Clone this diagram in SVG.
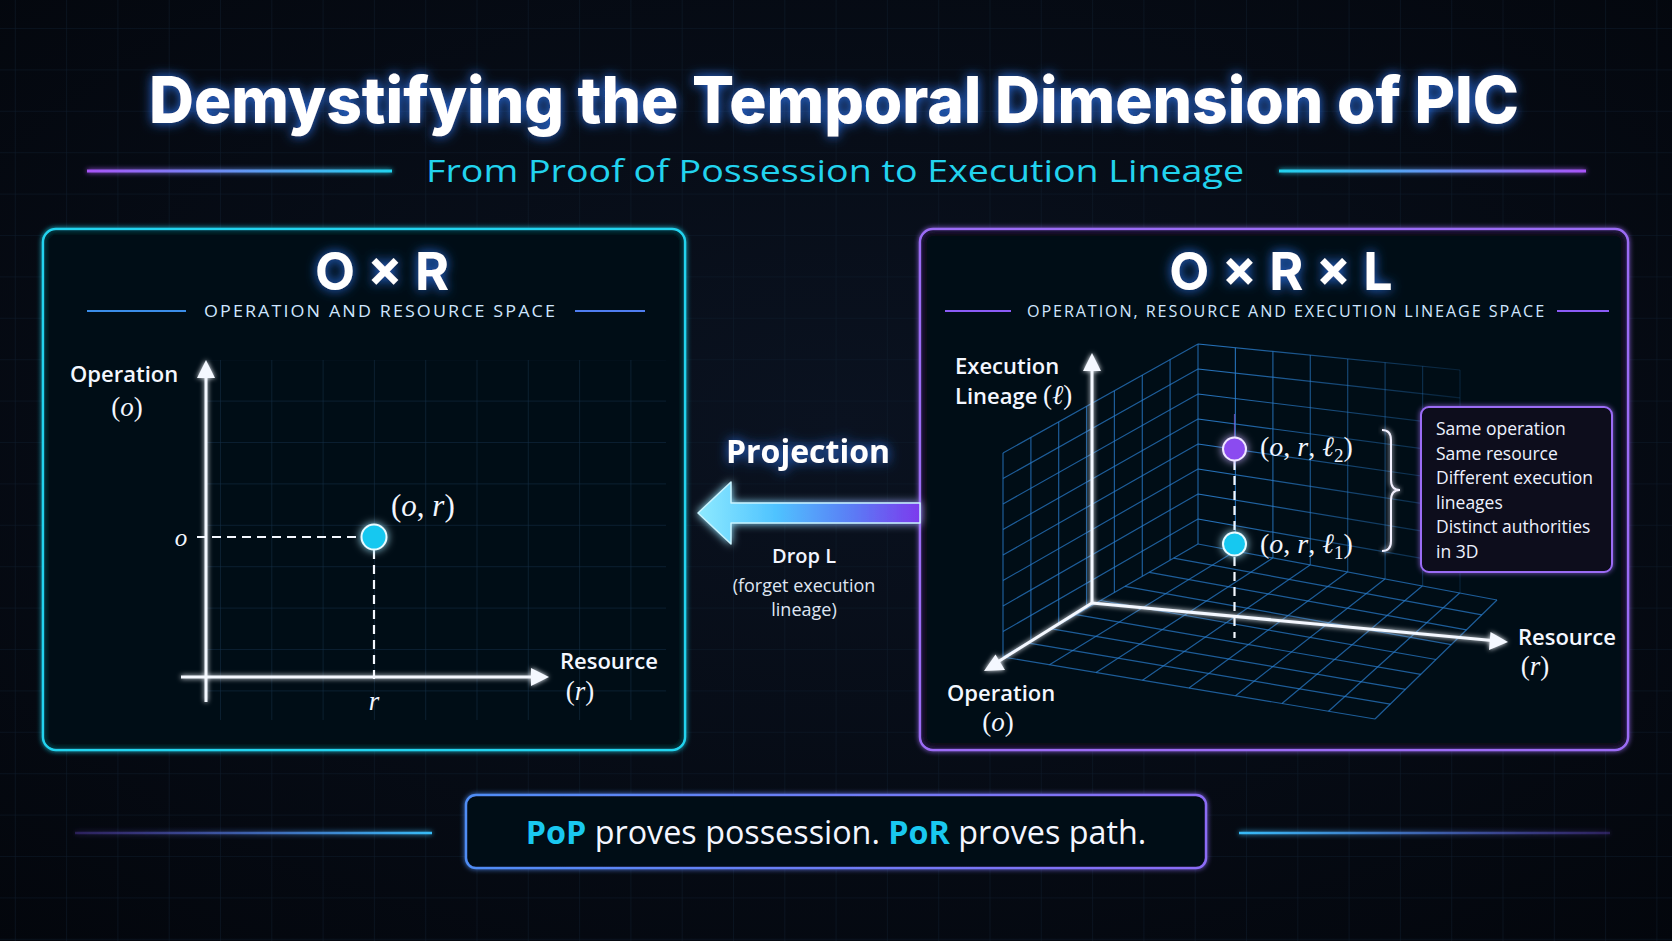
<svg xmlns="http://www.w3.org/2000/svg" width="1672" height="941" viewBox="0 0 1672 941">
<defs>
<style>
.sans{font-family:"Open Sans","Liberation Sans",sans-serif}
.inter{font-family:Inter,"Liberation Sans",sans-serif}
.math{font-family:"Liberation Serif","DejaVu Serif",serif;fill:#f2f6ff}
.it{font-style:italic}
.lbl{font-family:"Open Sans","Liberation Sans",sans-serif;font-weight:600;font-size:22px;fill:#f4f7ff}
.cap{font-family:"Open Sans","Liberation Sans",sans-serif;font-size:17px;fill:#cfe6ff;letter-spacing:2px}
.info{font-family:"Open Sans","Liberation Sans",sans-serif;font-size:17.5px;fill:#eef2ff}
.grid3d{stroke:#2a7fd0;stroke-width:1.2;fill:none;stroke-opacity:0.7}
.axis{stroke:#f4f8ff;stroke-width:3;fill:none}
.dash{stroke:#f4f8ff;stroke-width:2.2;stroke-dasharray:9 6;fill:none}
</style>
<pattern id="bggrid" x="14.8" y="28" width="51.3" height="41.4" patternUnits="userSpaceOnUse">
<path d="M0 0H51.3M0 0V41.4" stroke="#0e1c2c" stroke-width="1" fill="none"/>
</pattern>
<pattern id="plotgrid" x="14.8" y="28" width="51.3" height="41.4" patternUnits="userSpaceOnUse">
<path d="M0 0H51.3M0 0V41.4" stroke="#143049" stroke-width="1" fill="none"/>
</pattern>
<radialGradient id="bgrad" cx="0.5" cy="0.45" r="0.75">
<stop offset="0" stop-color="#0a1220"/>
<stop offset="1" stop-color="#03060c"/>
</radialGradient>
<linearGradient id="lineL" x1="87" x2="392" y1="0" y2="0" gradientUnits="userSpaceOnUse">
<stop offset="0" stop-color="#a855f7"/><stop offset="1" stop-color="#22d3ee"/>
</linearGradient>
<linearGradient id="lineR" x1="1279" x2="1586" y1="0" y2="0" gradientUnits="userSpaceOnUse">
<stop offset="0" stop-color="#22d3ee"/><stop offset="1" stop-color="#a855f7"/>
</linearGradient>
<linearGradient id="lineBL" x1="75" x2="432" y1="0" y2="0" gradientUnits="userSpaceOnUse">
<stop offset="0" stop-color="#6d4bd8" stop-opacity="0.3"/><stop offset="1" stop-color="#38bdf8"/>
</linearGradient>
<linearGradient id="lineBR" x1="1239" x2="1610" y1="0" y2="0" gradientUnits="userSpaceOnUse">
<stop offset="0" stop-color="#38bdf8"/><stop offset="1" stop-color="#6d4bd8" stop-opacity="0.3"/>
</linearGradient>
<linearGradient id="arrowGrad" x1="698" x2="920" y1="0" y2="0" gradientUnits="userSpaceOnUse">
<stop offset="0" stop-color="#8eeaff"/><stop offset="0.35" stop-color="#4fc3ff"/><stop offset="0.7" stop-color="#5b7bf5"/><stop offset="1" stop-color="#7c3aed"/>
</linearGradient>
<linearGradient id="bannerStroke" x1="0" x2="1" y1="0" y2="0">
<stop offset="0" stop-color="#4f8df5"/><stop offset="1" stop-color="#8b6cf5"/>
</linearGradient>
<linearGradient id="wallFade" x1="1198" x2="1470" y1="0" y2="0" gradientUnits="userSpaceOnUse">
<stop offset="0" stop-color="#2a7fd0" stop-opacity="0.9"/><stop offset="1" stop-color="#2a7fd0" stop-opacity="0.15"/>
</linearGradient>
<filter id="glow" x="-50%" y="-50%" width="200%" height="200%">
<feGaussianBlur stdDeviation="4" result="b"/>
<feMerge><feMergeNode in="b"/><feMergeNode in="SourceGraphic"/></feMerge>
</filter>
<filter id="softglow" x="-20%" y="-20%" width="140%" height="140%">
<feGaussianBlur stdDeviation="2.5" result="b"/>
<feMerge><feMergeNode in="b"/><feMergeNode in="SourceGraphic"/></feMerge>
</filter>
<filter id="lineglow" filterUnits="userSpaceOnUse" x="0" y="0" width="1672" height="941">
<feGaussianBlur stdDeviation="2.5" result="b"/>
<feMerge><feMergeNode in="b"/><feMergeNode in="SourceGraphic"/></feMerge>
</filter>
<filter id="tglow" x="-10%" y="-40%" width="120%" height="180%">
<feGaussianBlur in="SourceAlpha" stdDeviation="6" result="b"/>
<feFlood flood-color="#2f7dff" flood-opacity="0.9"/>
<feComposite in2="b" operator="in" result="g"/>
<feMerge><feMergeNode in="g"/><feMergeNode in="SourceGraphic"/></feMerge>
</filter>
</defs>

<g id="background">
<rect width="1672" height="941" fill="url(#bgrad)"/>
<rect width="1672" height="941" fill="url(#bggrid)"/>
</g>

<g id="header">
<text x="834" y="123" text-anchor="middle" class="inter" font-weight="800" font-size="64" fill="#ffffff" textLength="1370" lengthAdjust="spacingAndGlyphs" filter="url(#tglow)">Demystifying the Temporal Dimension of PIC</text>
<line x1="87" y1="171" x2="392" y2="171" stroke="url(#lineL)" stroke-width="3" filter="url(#lineglow)"/>
<line x1="1279" y1="171" x2="1586" y2="171" stroke="url(#lineR)" stroke-width="3" filter="url(#lineglow)"/>
<text x="835" y="182" text-anchor="middle" class="sans" font-size="31" fill="#22d3ee" textLength="818" lengthAdjust="spacingAndGlyphs">From Proof of Possession to Execution Lineage</text>
</g>

<g id="left-panel">
<rect x="43" y="229" width="642" height="521" rx="13" fill="#050a13" fill-opacity="0.85" stroke="#22d3ee" stroke-width="2.5" filter="url(#softglow)"/>
<rect x="206" y="360" width="460" height="360" fill="url(#plotgrid)"/>
<text x="382" y="290" text-anchor="middle" class="inter" font-weight="700" font-size="52" fill="#ffffff" filter="url(#tglow)">O × R</text>
<line x1="87" y1="311" x2="186" y2="311" stroke="#3b8de8" stroke-width="2"/>
<line x1="575" y1="311" x2="645" y2="311" stroke="#4f7df0" stroke-width="2"/>
<text x="204" y="317" class="cap" textLength="353" lengthAdjust="spacingAndGlyphs">OPERATION AND RESOURCE SPACE</text>
<g filter="url(#softglow)">
<line class="axis" x1="206" y1="702" x2="206" y2="375"/>
<path d="M206 360L197 378L215 378z" fill="#f4f8ff"/>
<line class="axis" x1="181" y1="677" x2="532" y2="677"/>
<path d="M549 677L531 668L531 686z" fill="#f4f8ff"/>
</g>
<line class="dash" x1="197" y1="537" x2="362" y2="537"/>
<line class="dash" x1="374" y1="550" x2="374" y2="683"/>
<circle cx="374" cy="537" r="12.5" fill="#19c8f0" stroke="#e8fbff" stroke-width="2" filter="url(#glow)"/>
<text x="70" y="382" class="lbl">Operation</text>
<text x="127" y="416" text-anchor="middle" class="math" font-size="27">(<tspan class="it">o</tspan>)</text>
<text x="181" y="546" text-anchor="middle" class="math it" font-size="25">o</text>
<text x="374" y="710" text-anchor="middle" class="math it" font-size="27">r</text>
<text x="391" y="516" class="math" font-size="31">(<tspan class="it">o</tspan>, <tspan class="it">r</tspan>)</text>
<text x="560" y="669" class="lbl">Resource</text>
<text x="580" y="700" text-anchor="middle" class="math" font-size="27">(<tspan class="it">r</tspan>)</text>
</g>

<g id="right-panel">
<rect x="920" y="229" width="708" height="521" rx="13" fill="#070816" fill-opacity="0.85" stroke="#9b6cf5" stroke-width="2.5" filter="url(#softglow)"/>
<text x="1281" y="290" text-anchor="middle" class="inter" font-weight="700" font-size="52" fill="#ffffff" filter="url(#tglow)">O × R × L</text>
<line x1="945" y1="311" x2="1011" y2="311" stroke="#8b5cf6" stroke-width="2"/>
<line x1="1557" y1="311" x2="1609" y2="311" stroke="#8b5cf6" stroke-width="2"/>
<text x="1027" y="317" class="cap" textLength="519" lengthAdjust="spacingAndGlyphs">OPERATION, RESOURCE AND EXECUTION LINEAGE SPACE</text>

<g id="wall-left" class="grid3d">
<path d="M1003 453V657M1030.9 437.4V640.9M1058.7 421.9V624.7M1086.6 406.3V608.6M1114.4 390.7V592.4M1142.3 375.1V576.3M1170.1 359.6V560.1M1198 344V544"/>
<path d="M1003 453L1198 344M1003 478.5L1198 369M1003 504L1198 394M1003 529.5L1198 419M1003 555L1198 444M1003 580.5L1198 469M1003 606L1198 494M1003 631.5L1198 519"/>
</g>
<g id="wall-back" fill="none" stroke="url(#wallFade)" stroke-width="1.2">
<path d="M1235.4 347.7V551M1272.9 351.4V558M1310.3 355.1V565M1347.7 358.9V572M1385.1 362.6V579M1422.6 366.3V586M1460 370V593"/>
<path d="M1198 344L1460 370M1198 369L1460 397.9M1198 394L1460 425.8M1198 419L1460 453.6M1198 444L1460 481.5M1198 469L1460 509.4M1198 494L1460 537.3M1198 519L1460 565.1"/>
</g>
<g id="floor" class="grid3d">
<path d="M1198 544L1497 600M1173.6 558.1L1481.8 614.9M1149.3 572.3L1466.5 629.8M1124.9 586.4L1451.3 644.6M1100.5 600.5L1436 659.5M1076.1 614.6L1420.8 674.4M1051.8 628.8L1405.5 689.3M1027.4 642.9L1390.3 704.1M1003 657L1375 719"/>
<path d="M1198 544L1003 657M1235.4 551L1049.5 664.8M1272.8 558L1096 672.5M1310.1 565L1142.5 680.3M1347.5 572L1189 688M1384.9 579L1235.5 695.8M1422.3 586L1282 703.5M1459.6 593L1328.5 711.3M1497 600L1375 719"/>
</g>
<g id="axes3d" filter="url(#softglow)">
<line class="axis" x1="1092" y1="603" x2="1092" y2="368"/>
<path d="M1092 353L1083 371L1101 371z" fill="#f4f8ff"/>
<line class="axis" x1="1092" y1="603" x2="996" y2="663"/>
<path d="M984 671L995.5 654.5L1005 670z" fill="#f4f8ff"/>
<line class="axis" x1="1092" y1="603" x2="1492" y2="640.5"/>
<path d="M1508 642L1490.5 632L1489 650z" fill="#f4f8ff"/>
</g>
<line x1="1234.5" y1="414" x2="1234.5" y2="437" stroke="#9b6cf5" stroke-width="1.2" stroke-opacity="0.6"/>
<line class="dash" x1="1234.5" y1="461" x2="1234.5" y2="532"/>
<line class="dash" x1="1234.5" y1="557" x2="1234.5" y2="638"/>
<circle cx="1234.5" cy="449" r="11.5" fill="#8b4cf0" stroke="#efe6ff" stroke-width="2" filter="url(#glow)"/>
<circle cx="1234.5" cy="544" r="11.5" fill="#19c8f0" stroke="#e8fbff" stroke-width="2" filter="url(#glow)"/>
<text x="1260" y="456" class="math" font-size="28">(<tspan class="it">o</tspan>, <tspan class="it">r</tspan>, <tspan class="it">ℓ</tspan><tspan font-size="19" dy="6">2</tspan><tspan dy="-6">)</tspan></text>
<text x="1260" y="553" class="math" font-size="28">(<tspan class="it">o</tspan>, <tspan class="it">r</tspan>, <tspan class="it">ℓ</tspan><tspan font-size="19" dy="6">1</tspan><tspan dy="-6">)</tspan></text>
<path d="M1382 430Q1391 430 1391 440L1391 480Q1391 490 1400 490Q1391 490 1391 500L1391 541Q1391 551 1382 551" fill="none" stroke="#f2f0ff" stroke-width="2" filter="url(#softglow)"/>
<text x="955" y="374" class="lbl">Execution</text>
<text x="955" y="404" class="lbl">Lineage <tspan class="math" font-weight="400" font-size="27">(<tspan class="it">ℓ</tspan>)</tspan></text>
<text x="947" y="701" class="lbl">Operation</text>
<text x="998" y="731" text-anchor="middle" class="math" font-size="27">(<tspan class="it">o</tspan>)</text>
<text x="1518" y="645" class="lbl">Resource</text>
<text x="1535" y="675" text-anchor="middle" class="math" font-size="27">(<tspan class="it">r</tspan>)</text>
</g>

<g id="info-box">
<rect x="1421" y="407" width="191" height="165" rx="8" fill="#07071a" stroke="#9b6cf5" stroke-width="2" filter="url(#softglow)"/>
<text class="info" x="1436" y="435">Same operation</text>
<text class="info" x="1436" y="460">Same resource</text>
<text class="info" x="1436" y="484">Different execution</text>
<text class="info" x="1436" y="509">lineages</text>
<text class="info" x="1436" y="533">Distinct authorities</text>
<text class="info" x="1436" y="558">in 3D</text>
</g>

<g id="connectors">
<path d="M698 513L731 482L731 503L920 503L920 523L731 523L731 544Z" fill="url(#arrowGrad)" stroke="#c9f4ff" stroke-width="1.5" stroke-linejoin="round" filter="url(#glow)"/>
</g>

<g id="projection-label">
<text x="808" y="463" text-anchor="middle" class="sans" font-weight="700" font-size="32" fill="#ffffff" filter="url(#tglow)">Projection</text>
<text x="804" y="563" text-anchor="middle" class="sans" font-weight="600" font-size="20" fill="#f2f5ff">Drop L</text>
<text x="804" y="592" text-anchor="middle" class="sans" font-size="18" fill="#dfe5f2">(forget execution</text>
<text x="804" y="616" text-anchor="middle" class="sans" font-size="18" fill="#dfe5f2">lineage)</text>
</g>

<g id="banner">
<line x1="75" y1="833" x2="432" y2="833" stroke="url(#lineBL)" stroke-width="2.5" filter="url(#lineglow)"/>
<line x1="1239" y1="833" x2="1610" y2="833" stroke="url(#lineBR)" stroke-width="2.5" filter="url(#lineglow)"/>
<rect x="466" y="795" width="740" height="73" rx="10" fill="#050914" stroke="url(#bannerStroke)" stroke-width="2.5" filter="url(#softglow)"/>
<text x="836" y="844" text-anchor="middle" class="sans" font-size="32.3" fill="#f4f6ff"><tspan font-weight="700" fill="#19c8f0">PoP</tspan> proves possession. <tspan font-weight="700" fill="#19c8f0">PoR</tspan> proves path.</text>
</g>
</svg>
